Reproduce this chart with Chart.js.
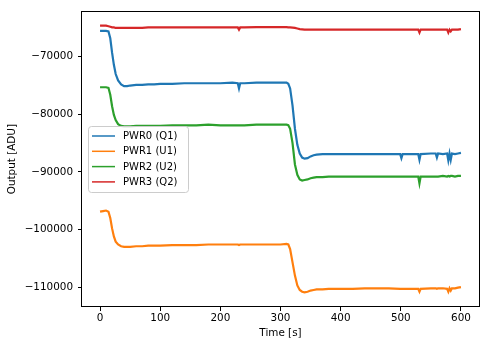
<!DOCTYPE html>
<html>
<head>
<meta charset="utf-8">
<script src="https://cdn.jsdelivr.net/npm/chart.js@4/dist/chart.umd.min.js"></script>
<style>
  body { margin: 0; background: #fff; }
  #wrap { width: 489px; height: 347px; }
</style>
</head>
<body>
<div id="wrap"><canvas id="my_chart" width="489" height="347"></canvas></div>
<script>
// time axis (s)
var times = [0, 5, 10, 14, 17, 20, 23, 26, 30, 35,
  40, 45, 50, 60, 70, 80, 90, 100, 120, 140,
  160, 180, 200, 220, 229, 231, 233, 240, 260, 280,
  300, 310, 313, 316, 320, 324, 328, 332, 336, 340,
  345, 350, 355, 360, 370, 380, 400, 420, 440, 460,
  480, 499, 501, 503, 520, 529, 531, 533, 550, 558,
  560, 562, 570, 577, 579, 581, 583, 585, 590, 595,
  600];

// PWR0 (Q1)
var pwr0 = [-65500, -65500, -65500, -65600, -66800, -69300, -71400, -73000, -74100, -74800,
  -75100, -75100, -75000, -74900, -74900, -74800, -74800, -74700, -74700, -74600,
  -74600, -74600, -74600, -74500, -74600, -75500, -74600, -74600, -74500, -74500,
  -74500, -74500, -74700, -75500, -78500, -82500, -85300, -86800, -87500, -87700,
  -87600, -87300, -87100, -87000, -86900, -86900, -86900, -86900, -86900, -86900,
  -86900, -86900, -87600, -86900, -86900, -86900, -87900, -86900, -86800, -86800,
  -87500, -86800, -86900, -86800, -88000, -86800, -87900, -86800, -86900, -86800,
  -86700];

// PWR1 (U1)
var pwr1 = [-96900, -96800, -96700, -96900, -98000, -99800, -101200, -102100, -102600, -102900,
  -103000, -103000, -103000, -102900, -102900, -102800, -102800, -102800, -102700, -102700,
  -102700, -102600, -102600, -102600, -102600, -102700, -102600, -102600, -102600, -102600,
  -102600, -102500, -102600, -103400, -105700, -108000, -109700, -110500, -110800, -110900,
  -110800, -110600, -110500, -110400, -110400, -110300, -110300, -110300, -110200, -110200,
  -110200, -110300, -110300, -110300, -110300, -110300, -110800, -110300, -110200, -110200,
  -110300, -110200, -110200, -110300, -110800, -110200, -110600, -110200, -110200, -110100,
  -110000];

// PWR2 (U2)
var pwr2 = [-75300, -75300, -75300, -75400, -76600, -78600, -80100, -81000, -81700, -82000,
  -82100, -82100, -82100, -82000, -82000, -82000, -82000, -82000, -81900, -81900,
  -81900, -81800, -81900, -81900, -81900, -81900, -81900, -81900, -81800, -81800,
  -81800, -81800, -81900, -82500, -85000, -88700, -90500, -91300, -91500, -91400,
  -91300, -91100, -91000, -90900, -90900, -90800, -90800, -90800, -90800, -90800,
  -90800, -90800, -90800, -90800, -90800, -90800, -92000, -90800, -90800, -90800,
  -90800, -90800, -90700, -90800, -90700, -90800, -90700, -90700, -90800, -90700,
  -90700];

// PWR3 (Q2)
var pwr3 = [-64600, -64600, -64600, -64700, -64800, -64900, -64900, -65000, -65000, -65000,
  -65000, -65000, -65000, -65000, -65000, -64900, -64900, -64900, -64900, -64900,
  -64900, -64900, -64900, -64900, -64900, -65300, -64900, -64900, -64850, -64850,
  -64850, -64850, -64900, -64900, -64950, -65000, -65100, -65200, -65250, -65300,
  -65300, -65300, -65300, -65300, -65300, -65300, -65300, -65300, -65300, -65300,
  -65300, -65300, -65300, -65300, -65300, -65300, -65800, -65300, -65300, -65300,
  -65300, -65300, -65300, -65300, -65800, -65300, -65600, -65300, -65300, -65300,
  -65200];

var labels = ['PWR0 (Q1)', 'PWR1 (U1)', 'PWR2 (U2)', 'PWR3 (Q2)'];
var colors = ['#1f77b4', '#ff7f0e', '#2ca02c', '#d62728'];
var series = [pwr0, pwr1, pwr2, pwr3];

var xTicks = [0, 100, 200, 300, 400, 500, 600];
var yTicks = [-110000, -100000, -90000, -80000, -70000];

var FONT = 'DejaVu Sans';

function toPoints(ys) {
  return times.map(function(t, i) { return { x: t, y: ys[i] }; });
}

var datasets = series.map(function(ys, i) {
  return {
    label: labels[i],
    data: toPoints(ys),
    borderColor: colors[i],
    borderWidth: 2.2,
    pointRadius: 0,
    tension: 0,
    fill: false,
    order: series.length - i // last series on top, like matplotlib
  };
});

// frame round the plot area (all four spines)
var framePlugin = {
  id: 'frame',
  afterDraw: function(chart) {
    var a = chart.chartArea, ctx = chart.ctx;
    ctx.save();
    ctx.strokeStyle = '#000';
    ctx.lineWidth = 1;
    ctx.strokeRect(Math.round(a.left) - 0.5, Math.round(a.top) + 0.5,
      Math.round(a.right - a.left) + 1, Math.round(a.bottom - a.top) - 1);
    ctx.restore();
  }
};

// legend box inside the axes, left middle
var legendPlugin = {
  id: 'boxLegend',
  afterDatasetsDraw: function(chart) {
    var ctx = chart.ctx;
    var bx = 88.5, by = 126.5, bw = 100, bh = 66, r = 3;
    ctx.save();
    ctx.beginPath();
    ctx.moveTo(bx + r, by);
    ctx.lineTo(bx + bw - r, by);
    ctx.quadraticCurveTo(bx + bw, by, bx + bw, by + r);
    ctx.lineTo(bx + bw, by + bh - r);
    ctx.quadraticCurveTo(bx + bw, by + bh, bx + bw - r, by + bh);
    ctx.lineTo(bx + r, by + bh);
    ctx.quadraticCurveTo(bx, by + bh, bx, by + bh - r);
    ctx.lineTo(bx, by + r);
    ctx.quadraticCurveTo(bx, by, bx + r, by);
    ctx.closePath();
    ctx.fillStyle = 'rgba(255,255,255,0.8)';
    ctx.fill();
    ctx.strokeStyle = '#cccccc';
    ctx.lineWidth = 1;
    ctx.stroke();

    ctx.font = '10px "' + FONT + '"';
    ctx.textBaseline = 'middle';
    ctx.textAlign = 'left';
    chart.data.datasets.forEach(function(ds, i) {
      var y = 136 + i * 15.3;
      ctx.strokeStyle = ds.borderColor;
      ctx.lineWidth = 1.5;
      ctx.beginPath();
      ctx.moveTo(92, y);
      ctx.lineTo(115, y);
      ctx.stroke();
      ctx.fillStyle = '#000';
      ctx.fillText(ds.label, 123, y + 0.5);
    });
    ctx.restore();
  }
};

function minusFmt(v) {
  return String(v).replace('-', '\u2212');
}

var ctx = document.getElementById('my_chart').getContext('2d');
var myChart = new Chart(ctx, {
  type: 'line',
  data: { datasets: datasets },
  options: {
    responsive: false,
    animation: false,
    devicePixelRatio: 1,
    layout: { padding: { left: 0, right: 10, top: 11, bottom: 0 } },
    plugins: {
      legend: { display: false },
      tooltip: { enabled: false }
    },
    scales: {
      x: {
        type: 'linear',
        min: -30,
        max: 630,
        afterBuildTicks: function(scale) {
          scale.ticks = xTicks.map(function(v) { return { value: v }; });
        },
        afterFit: function(scale) { scale.height = 40; },
        border: { display: false },
        grid: { display: true, drawOnChartArea: false, drawTicks: true, tickLength: 4, color: '#000' },
        ticks: {
          color: '#000',
          font: { family: FONT, size: 10.4 },
          padding: 1,
          maxRotation: 0,
          callback: function(v) { return minusFmt(v); }
        },
        title: {
          display: true,
          text: 'Time [s]',
          color: '#000',
          font: { family: FONT, size: 10.4 },
          padding: { top: 2, bottom: 7 }
        }
      },
      y: {
        type: 'linear',
        min: -113450,
        max: -62100,
        afterBuildTicks: function(scale) {
          scale.ticks = yTicks.map(function(v) { return { value: v }; });
        },
        afterFit: function(scale) { scale.width = 82; },
        border: { display: false },
        grid: { display: true, drawOnChartArea: false, drawTicks: true, tickLength: 4, color: '#000' },
        ticks: {
          color: '#000',
          font: { family: FONT, size: 10.4 },
          padding: 5,
          callback: function(v) { return minusFmt(v); }
        },
        title: {
          display: true,
          text: 'Output [ADU]',
          color: '#000',
          font: { family: FONT, size: 10.4 },
          padding: { top: 6, bottom: 0 }
        }
      }
    }
  },
  plugins: [framePlugin, legendPlugin]
});
</script>
</body>
</html>
